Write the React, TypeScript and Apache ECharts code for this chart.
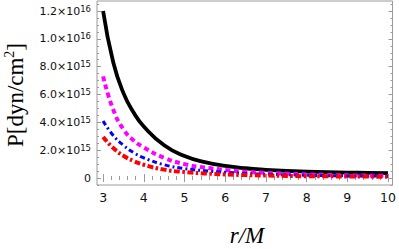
import React, { useEffect, useRef } from "react";
import * as echarts from "echarts";

const rValues = [3, 3.25, 3.5, 3.75, 4, 4.5, 5, 5.5, 6, 6.5, 7, 7.5, 8, 8.5, 9, 9.5, 10];
const blackP = [12.0e15, 8.3e15, 6.1e15, 4.7e15, 3.7e15, 2.35e15, 1.58e15, 1.14e15, 0.87e15, 0.7e15, 0.59e15, 0.51e15, 0.46e15, 0.42e15, 0.39e15, 0.365e15, 0.345e15];
const magentaP = [7.3e15, 4.9e15, 3.5e15, 2.7e15, 2.2e15, 1.45e15, 1.0e15, 0.75e15, 0.58e15, 0.45e15, 0.37e15, 0.31e15, 0.26e15, 0.22e15, 0.19e15, 0.17e15, 0.15e15];
const blueP = [4.1e15, 3.05e15, 2.35e15, 1.82e15, 1.45e15, 0.95e15, 0.68e15, 0.52e15, 0.41e15, 0.33e15, 0.27e15, 0.23e15, 0.2e15, 0.17e15, 0.15e15, 0.14e15, 0.13e15];
const redP = [2.95e15, 2.15e15, 1.6e15, 1.22e15, 0.95e15, 0.6e15, 0.43e15, 0.33e15, 0.26e15, 0.21e15, 0.18e15, 0.15e15, 0.13e15, 0.12e15, 0.11e15, 0.1e15, 0.09e15];

const xTickValues = [3, 4, 5, 6, 7, 8, 9, 10];
const yTickValues = [0, 2e15, 4e15, 6e15, 8e15, 1.0e16, 1.2e16];

const X_MIN = 2.85;
const X_MAX = 10.11;
const Y_MIN = -0.503e15;
const Y_MAX = 1.272e16;

const xMinor: number[] = [];
for (let i = 15; i <= 50; i++) xMinor.push(i / 5);
const yMinor: number[] = [];
for (let i = -1; i <= 25; i++) yMinor.push(i * 0.5e15);

const GRAY = "#9a9a9a";

function fmtY(v: number): string {
  if (Math.abs(v) < 1) return "{m|0}";
  const e = Math.floor(Math.log10(v) + 1e-9);
  const m = (v / Math.pow(10, e)).toFixed(1);
  return `{m|${m}×10}{e|${e}}`;
}

function toPairs(ys: number[]) {
  return rValues.map((r, i) => [r, ys[i]]);
}

export default function App() {
  const ref = useRef<HTMLDivElement>(null);
  useEffect(() => {
    if (!ref.current) return;
    const chart = echarts.init(ref.current, null, { renderer: "svg" });
    const tickAxisX = (pos: "bottom" | "top", vals: number[], len: number, labels: boolean) => ({
      type: "value",
      position: pos,
      min: X_MIN,
      max: X_MAX,
      axisLine: { show: false },
      splitLine: { show: false },
      axisTick: { show: true, inside: true, length: len, customValues: vals, lineStyle: { color: GRAY, width: 1 } },
      axisLabel: labels
        ? { show: true, customValues: xTickValues, margin: 6, fontSize: 12.5, fontFamily: "DejaVu Sans", color: "#111" }
        : { show: false },
    });
    const tickAxisY = (pos: "left" | "right", vals: number[], len: number, labels: boolean) => ({
      type: "value",
      position: pos,
      min: Y_MIN,
      max: Y_MAX,
      axisLine: { show: false },
      splitLine: { show: false },
      axisTick: { show: true, inside: true, length: len, customValues: vals, lineStyle: { color: GRAY, width: 1 } },
      axisLabel: labels
        ? {
            show: true,
            customValues: yTickValues,
            margin: 6,
            formatter: fmtY,
            rich: {
              m: { fontSize: 11, fontFamily: "DejaVu Sans", color: "#111", lineHeight: 14 },
              e: { fontSize: 8.5, fontFamily: "DejaVu Sans", color: "#111", verticalAlign: "top", lineHeight: 10 },
            },
          }
        : { show: false },
    });
    const mk = (name: string, ys: number[], color: string, width: number, dash: any, z: number) => ({
      type: "line",
      name,
      data: toPairs(ys),
      xAxisIndex: 0,
      yAxisIndex: 0,
      showSymbol: false,
      smooth: 0.5,
      z,
      lineStyle: { color, width, type: dash, cap: "butt", join: "round" },
    });
    chart.setOption({
      animation: false,
      grid: { left: 97, right: 5, top: 1, bottom: 64, show: true, borderColor: GRAY, borderWidth: 1, backgroundColor: "transparent" },
      xAxis: [
        tickAxisX("bottom", xTickValues, 4, true),
        tickAxisX("bottom", xMinor, 2, false),
        tickAxisX("top", xTickValues, 4, false),
        tickAxisX("top", xMinor, 2, false),
      ],
      yAxis: [
        tickAxisY("left", yTickValues, 4, true),
        tickAxisY("left", yMinor, 2, false),
        tickAxisY("right", yTickValues, 4, false),
        tickAxisY("right", yMinor, 2, false),
      ],
      series: [
        mk("black", blackP, "#000000", 3.8, "solid", 2),
        mk("magenta", magentaP, "#ff00ff", 4, [5, 3.5], 3),
        mk("blue", blueP, "#0000ff", 3, [5, 3, 2, 3], 4),
        mk("red", redP, "#ff0000", 4, [6, 2.5, 2.5, 2.5], 5),
      ],
      graphic: [
        {
          type: "text",
          x: 247,
          y: 235,
          style: {
            text: "r/M",
            font: "italic 23px 'Liberation Serif'",
            fill: "#000",
            align: "center",
            verticalAlign: "middle",
          },
        },
        {
          type: "text",
          x: 15,
          y: 95,
          rotation: Math.PI / 2,
          style: {
            text: "{a|P[dyn/cm}{s|2}{a|]}",
            align: "center",
            verticalAlign: "middle",
            rich: {
              a: { fontSize: 23, fontFamily: "Liberation Serif", fill: "#000", lineHeight: 26 },
              s: { fontSize: 14, fontFamily: "Liberation Serif", fill: "#000", verticalAlign: "top", lineHeight: 26 },
            },
          },
        },
      ],
    });
    return () => chart.dispose();
  }, []);
  return <div ref={ref} style={{ width: 399, height: 249, position: "absolute", left: 0, top: 0 }} />;
}
